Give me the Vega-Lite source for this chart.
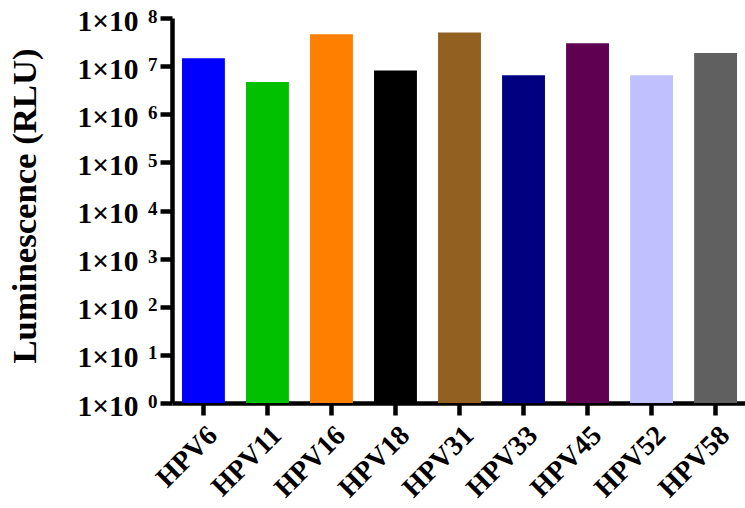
{
  "$schema": "https://vega.github.io/schema/vega-lite/v6.json",
  "width": 575,
  "height": 385,
  "autosize": {"type": "none"},
  "padding": {"left": 172, "top": 18, "right": 0, "bottom": 105},
  "background": "white",
  "config": {"view": {"stroke": null}},
  "data": {
    "values": [
      {"strain": "HPV6", "rlu": 14500000},
      {"strain": "HPV11", "rlu": 4700000},
      {"strain": "HPV16", "rlu": 46000000},
      {"strain": "HPV18", "rlu": 8100000},
      {"strain": "HPV31", "rlu": 50000000},
      {"strain": "HPV33", "rlu": 6500000},
      {"strain": "HPV45", "rlu": 30000000},
      {"strain": "HPV52", "rlu": 6500000},
      {"strain": "HPV58", "rlu": 18700000}
    ]
  },
  "encoding": {
    "x": {
      "field": "strain",
      "type": "nominal",
      "sort": null,
      "scale": {"paddingInner": 0.33, "paddingOuter": 0.156},
      "axis": {
        "title": null,
        "labelAngle": -45,
        "labelAlign": "right",
        "labelBaseline": "top",
        "labelFont": "Liberation Serif",
        "labelFontWeight": "bold",
        "labelFontSize": 28,
        "labelColor": "black",
        "labelPadding": 6,
        "domainColor": "black",
        "domainWidth": 4.5,
        "tickColor": "black",
        "tickWidth": 4.5,
        "tickSize": 12
      }
    }
  },
  "layer": [
    {
      "mark": {"type": "bar"},
      "encoding": {
        "y": {
          "field": "rlu",
          "type": "quantitative",
          "scale": {"type": "log", "domain": [1, 100000000], "nice": false},
          "axis": {
            "title": "Luminescence (RLU)",
            "titleFont": "Liberation Serif",
            "titleFontWeight": "bold",
            "titleFontSize": 34.7,
            "titleColor": "black",
            "titlePadding": 34,
            "titleY": 187.5,
            "values": [1, 10, 100, 1000, 10000, 100000, 1000000, 10000000, 100000000],
            "labelExpr": "'1×10'",
            "labelFont": "Liberation Serif",
            "labelFontWeight": "bold",
            "labelFontSize": 29.5,
            "labelColor": "black",
            "labelPadding": 22,
            "labelOffset": 3,
            "grid": false,
            "domainColor": "black",
            "domainWidth": 4.5,
            "tickColor": "black",
            "tickWidth": 4.5,
            "tickSize": 12
          }
        },
        "y2": {"datum": 1},
        "color": {
          "field": "strain",
          "type": "nominal",
          "sort": null,
          "legend": null,
          "scale": {
            "domain": ["HPV6", "HPV11", "HPV16", "HPV18", "HPV31", "HPV33", "HPV45", "HPV52", "HPV58"],
            "range": ["#0000FF", "#00C000", "#FF8000", "#000000", "#926020", "#000080", "#600050", "#C0C0FF", "#606060"]
          }
        }
      }
    },
    {
      "mark": {"type": "bar", "opacity": 0},
      "encoding": {
        "y": {
          "field": "rlu",
          "type": "quantitative",
          "scale": {"type": "log", "domain": [1, 100000000], "nice": false},
          "axis": {
            "orient": "left",
            "offset": 0,
            "title": null,
            "values": [1, 10, 100, 1000, 10000, 100000, 1000000, 10000000, 100000000],
            "labelExpr": "format(round(log(datum.value)/LN10), 'd')",
            "labelFont": "Liberation Serif",
            "labelFontWeight": "bold",
            "labelFontSize": 19,
            "labelColor": "black",
            "labelPadding": 15,
            "labelOffset": -2,
            "grid": false,
            "domain": false,
            "ticks": false
          }
        },
        "y2": {"datum": 1}
      }
    }
  ],
  "resolve": {"axis": {"y": "independent"}}
}
